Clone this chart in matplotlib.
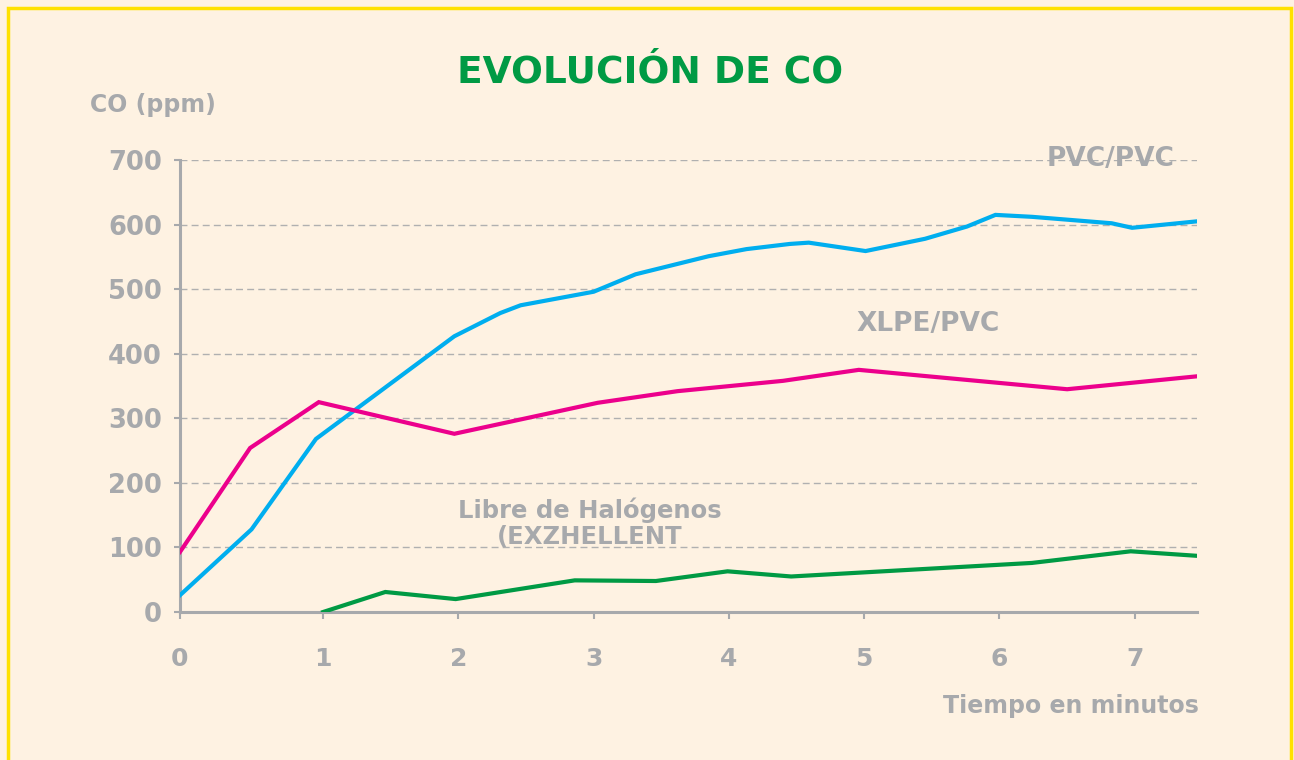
import matplotlib
matplotlib.use("Agg")
import matplotlib.pyplot as plt
import numpy as np
from matplotlib.patches import Rectangle

# tiempo (min) y CO (ppm)
t_pvc = [0, 0.5, 0.95, 1.97, 2.31, 2.46, 3.0, 3.31, 3.85, 4.13, 4.45, 4.59,
         5.01, 5.45, 5.76, 5.97, 6.24, 6.83, 6.98, 7.46]
co_pvc = [26, 128, 268, 427, 463, 475, 496, 523, 551, 562, 570, 572,
          559, 578, 597, 615, 612, 602, 595, 605]

t_xlpe = [0, 0.49, 0.97, 1.97, 3.03, 3.62, 4.40, 4.96, 6.50, 7.46]
co_xlpe = [93, 254, 325, 276, 324, 342, 358, 375, 345, 365]

t_libre = [1.0, 1.46, 1.98, 2.86, 3.46, 3.99, 4.46, 6.24, 6.97, 7.46]
co_libre = [0, 31, 20, 49, 48, 63, 55, 76, 94, 87]

xticks = [0, 1, 2, 3, 4, 5, 6, 7]
yticks = [0, 100, 200, 300, 400, 500, 600, 700]

bg = '#FEF2E2'
gris = '#A7A9AC'

# el primer minuto es algo mas ancho que los demas en el original
r = 143 / 135.2
def fwd(t):
    t = np.asarray(t, dtype=float)
    return np.where(t < 1, t * r, r + t - 1)
def inv(u):
    u = np.asarray(u, dtype=float)
    return np.where(u < r, u / r, u - r + 1)

plt.rcParams['font.family'] = ['DejaVu Sans']
plt.rcParams['font.weight'] = 'bold'

fig = plt.figure(figsize=(12.94, 7.6), dpi=100, facecolor=bg)
ax = fig.add_axes([180/1294, 1-612/760, (1197-180)/1294, (612-160)/760])
ax.set_facecolor(bg)
ax.set_xscale('function', functions=(fwd, inv))

ax.plot(t_pvc, co_pvc, color='#00AEEF', lw=3, solid_joinstyle='miter', zorder=3)
ax.plot(t_xlpe, co_xlpe, color='#EC008C', lw=3, solid_joinstyle='miter', zorder=3)
ax.plot(t_libre, co_libre, color='#009A44', lw=3, solid_joinstyle='miter', zorder=3)

ax.set_xlim(0, 7.46)
ax.set_ylim(0, 700)
ax.set_xticks(xticks)
ax.set_xticklabels([str(x) for x in xticks])
ax.set_xticks([], minor=True)
ax.set_yticks(yticks)
for y in yticks[1:]:
    ax.axhline(y, color='#B0B0B0', lw=1, ls=(0, (5, 3)), zorder=1)

for s in ['top', 'right']:
    ax.spines[s].set_visible(False)
for s in ['left', 'bottom']:
    ax.spines[s].set_color(gris)
    ax.spines[s].set_linewidth(2.2)
ax.tick_params(axis='y', colors=gris, length=4, width=1.5, pad=9, labelsize=18.5)
ax.tick_params(axis='x', colors=gris, length=5, width=1.5, pad=20, labelsize=18)
for lab in ax.get_xticklabels() + ax.get_yticklabels():
    lab.set_fontweight('bold')
    lab.set_color(gris)

ax.text(7.29, 701, 'PVC/PVC', color=gris, fontsize=19, fontweight='bold',
        ha='right', va='center')
ax.text(4.94, 446, 'XLPE/PVC', color=gris, fontsize=19, fontweight='bold',
        ha='left', va='center')
ax.text(2.97, 177, 'Libre de Halógenos\n(EXZHELLENT', color=gris, fontsize=17.5,
        fontweight='bold', ha='center', va='top', linespacing=1.1)

fig.text(0.502, 0.904, 'EVOLUCIÓN DE CO', color='#009A44', fontsize=27,
         fontweight='bold', ha='center', va='center')
fig.text(90/1294, 1-105/760, 'CO (ppm)', color=gris, fontsize=17,
         fontweight='bold', ha='left', va='center')
fig.text(1199/1294, 1-706/760, 'Tiempo en minutos', color=gris, fontsize=17,
         fontweight='bold', ha='right', va='center')

# marco amarillo
fig.patches.append(Rectangle((8/1294, -0.05), (1291-8)/1294, 1.05-8/760,
                             transform=fig.transFigure, fill=False,
                             edgecolor='#FFE100', lw=2.5))

fig.savefig('out.png', dpi=100, facecolor=bg)
